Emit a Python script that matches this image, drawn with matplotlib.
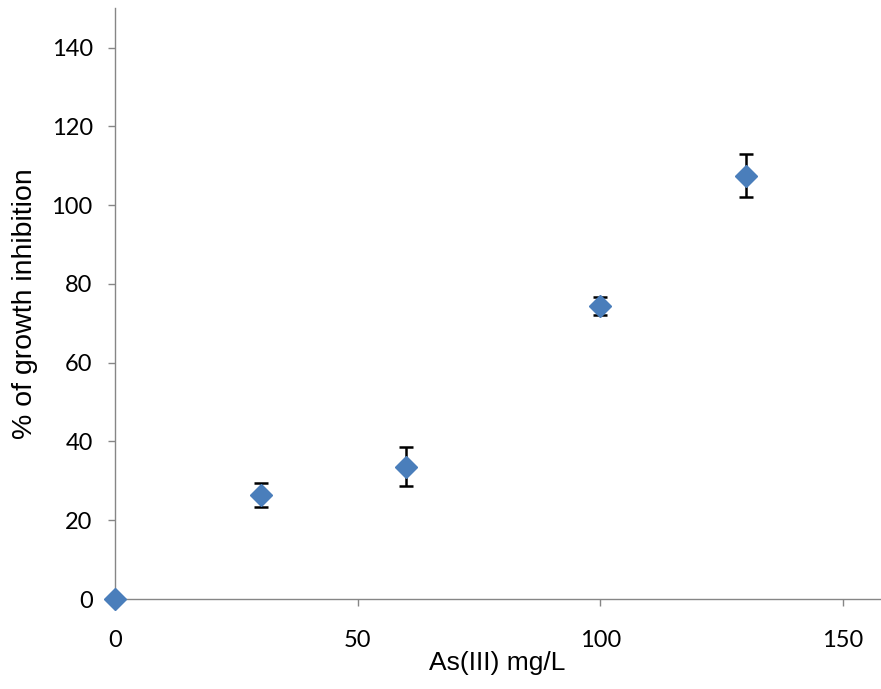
import matplotlib.pyplot as plt

plt.rcParams['font.family'] = ['Liberation Sans', 'DejaVu Sans']

# As(III) concentration vs growth inhibition
conc = [0, 30, 60, 100, 130]
inhibition = [0, 26.4, 33.6, 74.4, 107.5]
err = [0, 3.0, 4.9, 2.4, 5.5]

fig = plt.figure(figsize=(8.81, 6.89), dpi=100)
ax = fig.add_axes([0.1305, 0.1306, 0.8684, 0.8574])

ax.errorbar(conc, inhibition, yerr=err, fmt='none', ecolor='black',
            elinewidth=1.8, capsize=5, capthick=1.8, zorder=2)
ax.plot(conc, inhibition, linestyle='none', marker='D', markersize=11,
        color='#4A7EBB', zorder=3, clip_on=False)

ax.set_xlim(0, 157.6)
ax.set_ylim(0, 150)
ax.set_xticks([0, 50, 100, 150])
ax.set_yticks([0, 20, 40, 60, 80, 100, 120, 140])

for s in ['top', 'right']:
    ax.spines[s].set_visible(False)
for s in ['left', 'bottom']:
    ax.spines[s].set_color('#868686')
    ax.spines[s].set_linewidth(1.0)

ax.tick_params(axis='both', colors='#868686', labelcolor='black',
               length=5, width=1.0, direction='out')
ax.tick_params(axis='x', pad=17)
ax.tick_params(axis='y', pad=11)
for lbl in ax.get_xticklabels() + ax.get_yticklabels():
    lbl.set_family(['Lato', 'DejaVu Sans'])
    lbl.set_fontsize(17)

ax.set_xlabel('As(III) mg/L', fontsize=19, labelpad=0)
ax.set_ylabel('% of growth inhibition', fontsize=20.5, labelpad=10)

plt.savefig('out.png', dpi=100)
